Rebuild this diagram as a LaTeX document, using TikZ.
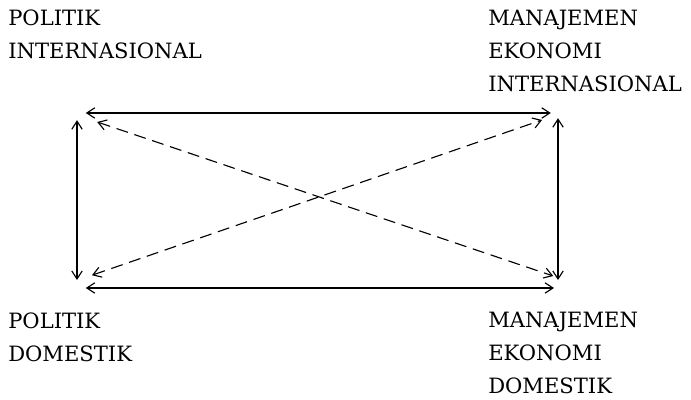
\documentclass[tikz,border=0pt]{standalone}
\usepackage{fontspec}
\setmainfont{DejaVu Serif}
\usepackage{tikz}
\usetikzlibrary{arrows.meta}

\begin{document}
\begin{tikzpicture}[>={Straight Barb[length=2mm,width=2.6mm]},
  font=\fontsize{15}{23.5}\selectfont,
  lbl/.style={align=left,inner sep=0pt,anchor=north west},
  link/.style={<->,line width=0.8pt},
  cross/.style={link,dash pattern=on 0.3cm off 0.17cm}]
  \useasboundingbox (0,0) rectangle (17.275,10);

  % the four fields
  \node[lbl] (polint) at (0.2,9.75) {POLITIK\\INTERNASIONAL};
  \node[lbl] (ekoint) at (12.2,9.75) {MANAJEMEN\\EKONOMI\\INTERNASIONAL};
  \node[lbl] (poldom) at (0.2,2.18) {POLITIK\\DOMESTIK};
  \node[lbl] (ekodom) at (12.2,2.2) {MANAJEMEN\\EKONOMI\\DOMESTIK};

  % corners of the box
  \coordinate (tl) at (1.925,7.175);
  \coordinate (tr) at (13.95,7.175);
  \coordinate (bl) at (1.925,2.8);
  \coordinate (br) at (13.95,2.8);

  % ends of the crossing lines
  \coordinate (x1a) at (2.43,6.95);
  \coordinate (x1b) at (13.83,3.1);
  \coordinate (x2a) at (2.3,3.12);
  \coordinate (x2b) at (13.55,7.0);

  \draw[link,shorten <=0.22cm,shorten >=0.18cm] (tl) -- (tr);
  \draw[link,shorten <=0.22cm,shorten >=0.1cm] (bl) -- (br);
  \draw[link,shorten <=0.18cm,shorten >=0.2cm] (tl) -- (bl);
  \draw[link,shorten <=0.13cm,shorten >=0.2cm] (tr) -- (br);
  \draw[cross] (x1a) -- (x1b);
  \draw[cross] (x2a) -- (x2b);
\end{tikzpicture}
\end{document}
